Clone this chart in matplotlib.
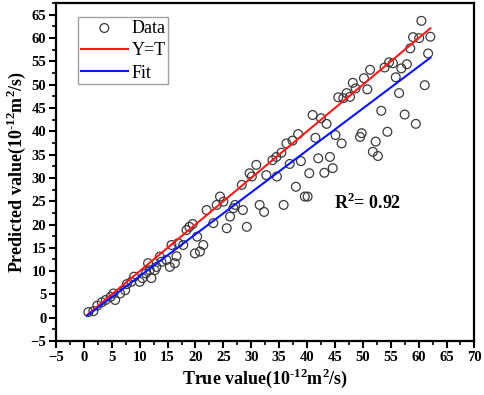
import numpy as np
import matplotlib
matplotlib.use("Agg")
import matplotlib.pyplot as plt
from matplotlib.ticker import MultipleLocator

plt.rcParams['font.family'] = ['Liberation Serif', 'DejaVu Serif']
plt.rcParams['mathtext.fontset'] = 'custom'
plt.rcParams['mathtext.rm'] = 'Liberation Serif'
plt.rcParams['mathtext.bf'] = 'Liberation Serif:bold'

true_vals = [0.8, 1.7, 2.4, 3.2, 3.9, 4.8, 5.6, 5.3, 6.5, 7.4, 7.7, 8.5, 9.0, 10.0, 10.5,
             11.5, 11.1, 12.1, 11.8, 12.7, 13.0, 13.6, 13.9, 14.8, 15.4, 16.3, 16.6, 15.7,
             16.9, 17.8, 18.4, 18.9, 19.5, 19.9, 20.8, 21.4, 20.3, 22.0, 23.2, 23.8, 24.4,
             25.0, 25.6, 26.2, 26.8, 27.1, 28.5, 28.3, 29.2, 30.1, 29.7, 30.9, 31.5, 32.3,
             32.7,
             60.5, 59.0, 60.1, 62.1, 61.7, 58.5, 61.1, 59.5, 57.5, 57.9, 56.9, 56.5, 55.9,
             55.4, 54.7, 53.9, 53.3, 54.4, 52.3, 51.8, 52.7, 51.3, 50.8, 50.2, 49.5, 49.8,
             48.7, 48.2, 47.7, 47.1, 46.5, 45.6, 46.2, 45.1, 44.1, 44.6, 43.1, 42.0, 40.4,
             41.5, 41.0, 42.5, 43.5, 38.4, 37.4, 36.3, 35.4, 38.9, 36.9, 34.5, 33.8, 34.6,
             38.0, 39.6, 40.1, 35.8]
pred_vals = [1.2, 1.4, 2.6, 3.3, 3.8, 4.5, 3.8, 5.2, 5.2, 5.9, 7.2, 7.7, 8.8, 7.7, 8.5,
             11.7, 9.5, 8.5, 10.2, 10.2, 10.9, 13.1, 12.0, 12.4, 10.9, 11.7, 13.2, 15.6,
             16.0, 15.6, 18.8, 19.5, 20.1, 13.8, 14.2, 15.6, 17.4, 23.1, 20.3, 24.2, 26.0,
             24.9, 19.2, 21.7, 23.5, 24.2, 23.1, 28.5, 19.5, 30.3, 31.0, 32.8, 24.2, 22.7,
             30.6,
             63.7, 60.2, 60.0, 60.3, 56.7, 57.8, 49.9, 41.6, 43.6, 54.4, 53.5, 48.2, 51.6,
             54.6, 54.8, 53.7, 44.4, 39.9, 37.8, 35.6, 34.7, 53.2, 49.0, 51.4, 38.8, 39.6,
             49.2, 50.4, 47.4, 48.2, 47.1, 47.3, 37.4, 39.2, 34.5, 32.1, 31.1, 34.2, 31.0,
             38.6, 43.5, 42.8, 41.6, 39.4, 38.0, 37.4, 35.4, 33.6, 33.0, 34.5, 33.8, 30.3,
             28.1, 26.0, 26.0, 24.2]

fit_slope = 0.90
fit_intercept = -0.1
r2_text = r"R$^\mathbf{2}$= 0.92"

x_ticks = list(range(-5, 71, 5))
y_ticks = list(range(-5, 66, 5))

fig = plt.figure(figsize=(4.84, 3.95), dpi=100)
ax = fig.add_axes([0.1157, 0.1367, 0.8645, 0.8553])

tv = np.array(true_vals)
pv = np.array(pred_vals)
xl = np.array([tv.min() - 0.2, tv.max()])

ax.scatter(tv, pv, s=40, facecolors='none', edgecolors='#3a3a3a', linewidths=0.9,
           label='Data', zorder=3)
ax.plot(xl, xl, color='#ff1a1a', lw=1.5, label='Y=T', zorder=4)
ax.plot(xl, fit_slope * xl + fit_intercept, color='#0a14ff', lw=1.5, label='Fit', zorder=4)

ax.set_xlim(-5, 70)
ax.set_ylim(-5, 67.5)
ax.set_xticks(x_ticks)
ax.set_yticks(y_ticks)
ax.xaxis.set_minor_locator(MultipleLocator(2.5))
ax.yaxis.set_minor_locator(MultipleLocator(2.5))
ax.tick_params(which='major', direction='out', length=5, width=1.5, labelsize=10.5, pad=2)
ax.tick_params(which='minor', direction='out', length=3, width=1.2)
for lab in ax.get_xticklabels() + ax.get_yticklabels():
    lab.set_fontweight('bold')
for s in ax.spines.values():
    s.set_linewidth(1.6)

ax.set_xlabel("True value(10$^{\\mathbf{\u2010}\\mathbf{12}}$m$^{\\mathbf{2}}$/s)", fontsize=13,
              fontweight='bold', labelpad=2)
ax.set_ylabel("Predicted value(10$^{\\mathbf{\u2010}\\mathbf{12}}$m$^{\\mathbf{2}}$/s)", fontsize=13,
              fontweight='bold', labelpad=2)

ax.text(50.9, 24.6, r2_text, fontsize=13, fontweight='bold', ha='center', va='center')

leg = ax.legend(loc='upper left', bbox_to_anchor=(0.04, 0.975), fontsize=13,
                frameon=True, fancybox=False, borderpad=0.15, labelspacing=0.3,
                handlelength=2.6, handletextpad=0.2, borderaxespad=0.3)
leg.get_frame().set_edgecolor('#888888')
leg.get_frame().set_linewidth(1.0)

fig.savefig('out.png', dpi=100)
